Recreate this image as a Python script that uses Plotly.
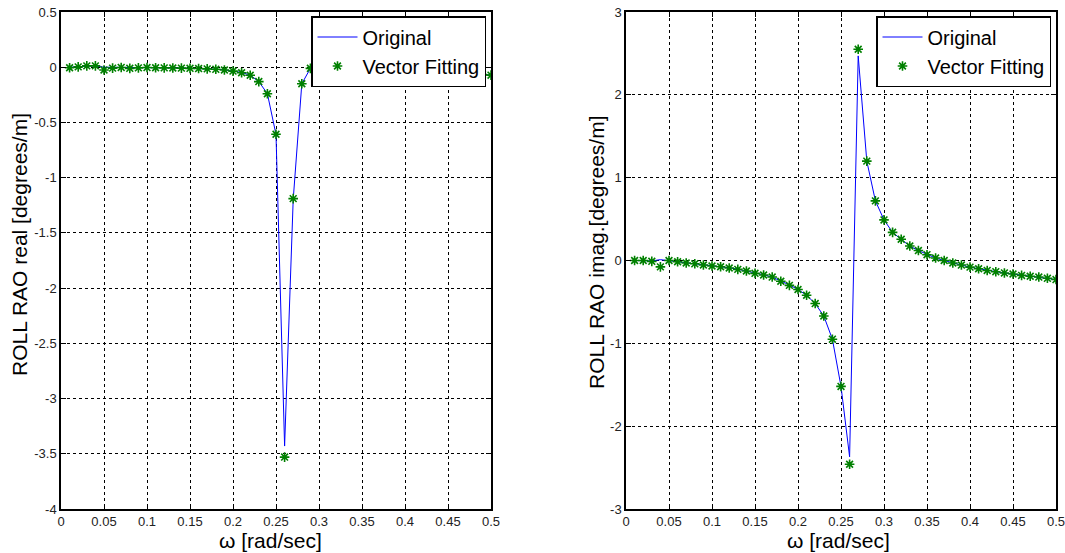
import plotly.graph_objects as go

omega = [0.01, 0.02, 0.03, 0.04, 0.05, 0.06, 0.07, 0.08, 0.09, 0.10,
         0.11, 0.12, 0.13, 0.14, 0.15, 0.16, 0.17, 0.18, 0.19, 0.20,
         0.21, 0.22, 0.23, 0.24, 0.25, 0.26, 0.27, 0.28, 0.29, 0.30,
         0.31, 0.32, 0.33, 0.34, 0.35, 0.36, 0.37, 0.38, 0.39, 0.40,
         0.41, 0.42, 0.43, 0.44, 0.45, 0.46, 0.47, 0.48, 0.49, 0.50]

real_orig = [0.000, 0.004, 0.008, 0.012, 0.000, 0.000, 0.000, -0.002, -0.003, -0.003,
             -0.004, -0.005, -0.006, -0.007, -0.009, -0.011, -0.014, -0.018, -0.024, -0.033,
             -0.047, -0.072, -0.130, -0.240, -0.610, -3.430, -1.200, -0.150, -0.010, -0.015,
             -0.020, -0.024, -0.028, -0.031, -0.034, -0.037, -0.040, -0.042, -0.044, -0.047,
             -0.049, -0.051, -0.053, -0.055, -0.057, -0.059, -0.061, -0.063, -0.066, -0.070]

real_fit = [-0.005, 0.003, 0.012, 0.012, -0.025, -0.008, -0.002, -0.010, -0.006, -0.003,
            -0.005, -0.006, -0.007, -0.008, -0.010, -0.012, -0.015, -0.019, -0.025, -0.035,
            -0.050, -0.073, -0.130, -0.240, -0.607, -3.530, -1.190, -0.150, -0.010, -0.015,
            -0.020, -0.024, -0.028, -0.031, -0.034, -0.037, -0.040, -0.042, -0.044, -0.047,
            -0.049, -0.051, -0.053, -0.058, -0.060, -0.062, -0.062, -0.064, -0.066, -0.072]

imag_orig = [0.000, 0.000, -0.005, 0.010, -0.005, -0.015, -0.028, -0.040, -0.050, -0.062,
             -0.074, -0.088, -0.105, -0.125, -0.150, -0.172, -0.200, -0.245, -0.295, -0.350,
             -0.420, -0.520, -0.670, -0.950, -1.520, -2.370, 2.470, 1.200, 0.720, 0.490,
             0.340, 0.255, 0.175, 0.120, 0.070, 0.030, 0.000, -0.030, -0.055, -0.080,
             -0.100, -0.120, -0.135, -0.150, -0.163, -0.180, -0.190, -0.200, -0.215, -0.230]

imag_fit = [0.000, 0.000, -0.010, -0.077, 0.000, -0.015, -0.030, -0.040, -0.054, -0.066,
            -0.075, -0.090, -0.107, -0.127, -0.155, -0.175, -0.200, -0.250, -0.300, -0.350,
            -0.420, -0.520, -0.670, -0.950, -1.520, -2.460, 2.550, 1.200, 0.720, 0.490,
            0.340, 0.256, 0.175, 0.120, 0.070, 0.030, 0.000, -0.030, -0.055, -0.080,
            -0.100, -0.120, -0.135, -0.150, -0.163, -0.180, -0.190, -0.200, -0.215, -0.230]

x_ticks = [0, 0.05, 0.1, 0.15, 0.2, 0.25, 0.3, 0.35, 0.4, 0.45, 0.5]
x_labels = ["0", "0.05", "0.1", "0.15", "0.2", "0.25", "0.3", "0.35", "0.4", "0.45", "0.5"]
yl_ticks = [0.5, 0, -0.5, -1, -1.5, -2, -2.5, -3, -3.5, -4]
yl_labels = ["0.5", "0", "-0.5", "-1", "-1.5", "-2", "-2.5", "-3", "-3.5", "-4"]
yr_ticks = [3, 2, 1, 0, -1, -2, -3]
yr_labels = ["3", "2", "1", "0", "-1", "-2", "-3"]

W, H = 1065, 553
FONT = "Arial, Liberation Sans, sans-serif"
GREEN = "#008000"
BLUE = "#0000ff"

fig = go.Figure()

# Left plot
fig.add_trace(go.Scatter(x=omega, y=real_orig, mode="lines", name="Original",
                         line=dict(color=BLUE, width=1), xaxis="x", yaxis="y",
                         legend="legend"))
fig.add_trace(go.Scatter(x=omega, y=real_fit, mode="markers", name="Vector Fitting",
                         marker=dict(symbol="asterisk-open", size=8, color=GREEN,
                                     line=dict(color=GREEN, width=1.6)),
                         xaxis="x", yaxis="y", legend="legend"))
# Right plot
fig.add_trace(go.Scatter(x=omega, y=imag_orig, mode="lines", name="Original",
                         line=dict(color=BLUE, width=1), xaxis="x2", yaxis="y2",
                         legend="legend2"))
fig.add_trace(go.Scatter(x=omega, y=imag_fit, mode="markers", name="Vector Fitting",
                         marker=dict(symbol="asterisk-open", size=8, color=GREEN,
                                     line=dict(color=GREEN, width=1.6)),
                         xaxis="x2", yaxis="y2", legend="legend2"))

ytop = 1 - 12 / H
ybot = 1 - 509 / H

TICKFONT = dict(family=FONT, size=13, color="#222")

common_x = dict(range=[0, 0.5], tickvals=x_ticks, ticktext=x_labels,
                showgrid=True, gridcolor="black", griddash="dot", gridwidth=1,
                showline=True, linecolor="black", linewidth=1.5, mirror="ticks",
                ticks="inside", ticklen=5, tickcolor="black",
                tickfont=TICKFONT, zeroline=False, automargin=False,
                ticklabeloverflow="allow")
common_y = dict(showgrid=True, gridcolor="black", griddash="dot", gridwidth=1,
                showline=True, linecolor="black", linewidth=1.5, mirror="ticks",
                ticks="inside", ticklen=5, tickcolor="black",
                tickfont=TICKFONT, zeroline=False, automargin=False,
                ticklabeloverflow="allow")

legend_common = dict(yanchor="top", xanchor="right", bgcolor="white",
                     bordercolor="black", borderwidth=1.5,
                     font=dict(family=FONT, size=20, color="black"),
                     itemwidth=40, tracegroupgap=0)

fig.update_layout(
    width=W, height=H,
    margin=dict(l=0, r=0, t=0, b=0),
    paper_bgcolor="white", plot_bgcolor="white",
    xaxis=dict(domain=[61 / W, 491 / W], anchor="y", **common_x),
    yaxis=dict(domain=[ybot, ytop], anchor="x", range=[-4, 0.5],
               tickvals=yl_ticks, ticktext=yl_labels, **common_y),
    xaxis2=dict(domain=[626 / W, 1056 / W], anchor="y2", **common_x),
    yaxis2=dict(domain=[ybot, ytop], anchor="x2", range=[-3, 3],
                tickvals=yr_ticks, ticktext=yr_labels, **common_y),
    legend=dict(x=486 / W, y=1 - 16 / H, **legend_common),
    legend2=dict(x=1051 / W, y=1 - 16 / H, **legend_common),
    showlegend=True,
    annotations=[
        dict(text="ω [rad/sec]", x=270 / W, y=1 - 540 / H, xref="paper", yref="paper",
             showarrow=False, xanchor="center", yanchor="middle",
             font=dict(family=FONT, size=21, color="black")),
        dict(text="ω [rad/sec]", x=838 / W, y=1 - 540 / H, xref="paper", yref="paper",
             showarrow=False, xanchor="center", yanchor="middle",
             font=dict(family=FONT, size=21, color="black")),
        dict(text="ROLL RAO real [degrees/m]", x=20 / W, y=1 - 245 / H, xref="paper",
             yref="paper", showarrow=False, textangle=-90, xanchor="center",
             yanchor="middle", font=dict(family=FONT, size=21, color="black")),
        dict(text="ROLL RAO imag.[degrees/m]", x=596 / W, y=1 - 252 / H, xref="paper",
             yref="paper", showarrow=False, textangle=-90, xanchor="center",
             yanchor="middle", font=dict(family=FONT, size=21, color="black")),
    ],
)

fig.write_html("out.html")
